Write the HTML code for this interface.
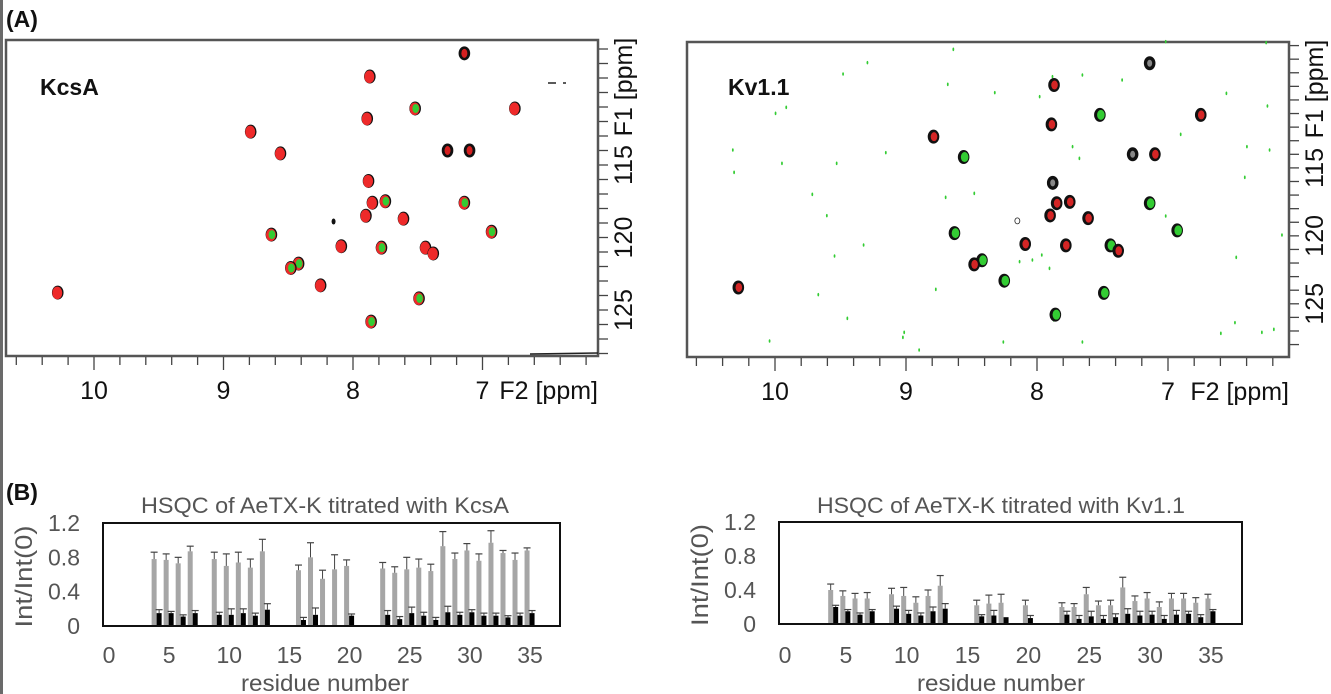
<!DOCTYPE html>
<html><head><meta charset="utf-8">
<style>
body{margin:0;width:1331px;height:694px;background:#fff;overflow:hidden;font-family:"Liberation Sans",sans-serif;}
svg{position:absolute;left:0;top:0;}
</style></head>
<body>
<svg id="fig" width="1331" height="694"></svg>
<script>
// ---------- NMR data (ppm) ----------
const peakF2 = [7.14,7.87,7.52,6.75,7.89,8.79,8.56,7.27,7.10,7.88,7.85,7.75,7.14,7.90,7.61,8.15,6.93,8.63,8.09,7.78,7.44,7.38,8.42,8.48,8.25,7.49,10.28,7.86];
const peakF1 = [107.3,108.9,111.1,111.1,111.8,112.7,114.2,114.0,114.0,116.1,117.6,117.5,117.6,118.5,118.7,118.9,119.6,119.8,120.6,120.7,120.7,121.1,121.8,122.1,123.3,124.2,123.8,125.8];
const kcsaType = ['k','r','g','r','r','r','r','k','k','r','r','g','g','r','r','d','g','g','r','g','r','r','g','g','r','g','r','g'];
const kvType = ['o','kr','kg','kr','kr','kr','kg','o','kr','o','kr','kr','kg','kr','kr','c','kg','kg','kr','kr','kg','kr','kg','kr','kg','kg','kr','kg'];
// green noise specks in Kv1.1 spectrum (zoomed-pixel readings)
const noiseZ = [[663,148],[462,188],[405,222],[650,253],[760,278],[865,290],[895,230],[965,225],[1058,240],[1302,280],[1398,318],[1195,403],[942,440],[958,475],[1350,440],[1403,450],[1345,532],[505,458],[390,490],[262,490],[247,340],[272,322],[147,450],[150,517],[333,583],[367,647],[645,592],[712,580],[453,735],[385,768],[818,785],[848,780],[870,765],[888,805],[1160,648],[1432,705],[1325,772],[622,868],[347,884],[415,955],[548,997],[545,1012],[583,1050],[233,1023],[780,1026],[965,1026],[1289,1000],[1322,968],[1385,997],[1413,988],[1160,125],[1395,128],[898,960]];

// ---------- bar chart data ----------
const residues = [4,5,6,7,9,10,11,12,13,16,17,18,19,20,23,24,25,26,27,28,29,30,31,32,33,34,35];
const kcsaGray = [0.78,0.77,0.73,0.87,0.78,0.70,0.74,0.68,0.87,0.65,0.80,0.55,0.66,0.70,0.67,0.62,0.66,0.68,0.64,0.93,0.78,0.88,0.76,0.97,0.85,0.77,0.88];
const kcsaGrayErr = [0.08,0.07,0.07,0.06,0.08,0.14,0.12,0.10,0.14,0.06,0.17,0.10,0.17,0.07,0.07,0.07,0.14,0.10,0.08,0.17,0.07,0.08,0.08,0.14,0.03,0.08,0.03];
const kcsaBlack = [0.15,0.15,0.11,0.15,0.13,0.13,0.15,0.12,0.19,0.07,0.13,null,null,0.12,0.13,0.08,0.15,0.12,0.07,0.16,0.13,0.16,0.12,0.12,0.10,0.12,0.15];
const kcsaBlackErr = [0.04,0.02,0.02,0.03,0.03,0.07,0.05,0.03,0.07,0.03,0.08,0,0,0.02,0.05,0.03,0.07,0.04,0.03,0.07,0.03,0.03,0.03,0.03,0.02,0.03,0.03];
const kvGray = [0.40,0.33,0.30,0.30,0.35,0.33,0.25,0.33,0.45,0.22,0.24,0.25,null,0.22,0.20,0.20,0.35,0.22,0.22,0.43,0.27,0.30,0.20,0.30,0.30,0.25,0.30];
const kvGrayErr = [0.07,0.06,0.06,0.07,0.07,0.10,0.07,0.07,0.12,0.06,0.10,0.10,0,0.06,0.05,0.04,0.08,0.05,0.06,0.12,0.06,0.07,0.06,0.06,0.06,0.06,0.05];
const kvBlack = [0.20,0.15,0.11,0.15,0.18,0.12,0.10,0.15,0.18,0.09,0.10,0.08,null,0.07,0.11,0.06,0.09,0.06,0.08,0.12,0.10,0.11,0.06,0.11,0.12,0.08,0.15];
const kvBlackErr = [0.02,0.02,0.02,0.02,0.03,0.04,0.03,0.05,0.06,0.02,0.06,0.0,0,0.03,0.04,0.04,0.06,0.04,0.04,0.06,0.05,0.04,0.04,0.05,0.03,0.03,0.02];
const xTicks = [0,5,10,15,20,25,30,35];
const yTicks = [0,0.4,0.8,1.2];
const yTickLabels = ['0','0.4','0.8','1.2'];
const ppmXTicks = [10,9,8,7];
const ppmYTicks = [115,120,125];

const NS='http://www.w3.org/2000/svg';
const svg=document.getElementById('fig');
function mk(tag,attrs,parent){const e=document.createElementNS(NS,tag);for(const k in attrs)e.setAttribute(k,attrs[k]);(parent||svg).appendChild(e);return e;}
function txt(s,attrs,parent){const e=mk('text',attrs,parent);e.textContent=s;return e;}

let strip=mk('rect',{x:0,y:0,width:3,height:694,fill:'#6a6a6a'});



let la=txt('(A)',{x:6,y:27,'font-size':23,'font-weight':'bold',fill:'#111'});


let lb=txt('(B)',{x:6,y:500,'font-size':23,'font-weight':'bold',fill:'#111'});



// ---------- NMR panels ----------
function nmrPanel(cfg){
  const g=mk('g',{});
  
  
  const X=p=>cfg.x10+(10-p)*cfg.px;
  const Y=p=>cfg.y115+(p-115)*cfg.py;
  const frame=mk('rect',{x:cfg.L,y:cfg.T,width:cfg.R-cfg.L,height:cfg.B-cfg.T,fill:'#fff',stroke:'#555','stroke-width':2.5},g);
  
  
  for(let i=0;i<=60;i++){const p=10.6-i*0.2;const x=X(p);if(x<cfg.L+3||x>cfg.R)continue;
    const major=Math.abs(p-Math.round(p))<0.01;
    const t=mk('line',{x1:x,x2:x,y1:cfg.B+1,y2:cfg.B+(major?14:9),stroke:'#444','stroke-width':1.3},g);
    
    }
  ppmXTicks.forEach(p=>{const t=txt(String(p),{x:X(p),y:cfg.B+43,'font-size':25,'text-anchor':'middle',fill:'#111'},g);
    
    });
  const xt=txt('F2 [ppm]',{x:cfg.R,y:cfg.B+43,'font-size':25,'text-anchor':'end',fill:'#111'},g);
  
  
  for(let p=106;p<=129;p++){const y=Y(p);if(y<cfg.T+1||y>cfg.B-1)continue;
    const t=mk('line',{x1:cfg.R+1,x2:cfg.R+10,y1:y,y2:y,stroke:'#444','stroke-width':1.3},g);
    
    }
  ppmYTicks.forEach(p=>{const t=txt(String(p),{x:0,y:0,'font-size':25,'text-anchor':'middle',fill:'#111',transform:`translate(${cfg.R+34},${Y(p)}) rotate(-90)`},g);
    
    });
  const yt=txt('F1 [ppm]',{x:0,y:0,'font-size':25,'text-anchor':'middle',fill:'#111',transform:`translate(${cfg.R+34},${cfg.T+47}) rotate(-90)`},g);
  
  
  const lab=txt(cfg.label,{x:cfg.lx,y:95,'font-size':23,'font-weight':'bold',fill:'#111'},g);
  
  
  if(cfg.noise){cfg.noise.forEach(n=>{const f2=10-(670+n[0]/2.34-cfg.x10)/cfg.px;const f1=115+(n[1]/3-cfg.y115)/cfg.py;
    const d=mk('ellipse',{cx:X(f2),cy:Y(f1),rx:0.9,ry:1.8,fill:'#3c3'},g);
    
    });}
  peakF2.forEach((f2,i)=>{const cx=X(f2),cy=Y(peakF1[i]);const ty=cfg.types[i];
    const pg=mk('g',{},g);
    
    
    if(ty==='d'){mk('ellipse',{cx,cy,rx:2,ry:3,fill:'#111'},pg);return;}
    if(ty==='c'){mk('ellipse',{cx,cy,rx:2.5,ry:3,fill:'none',stroke:'#222','stroke-width':0.8},pg);return;}
    mk('ellipse',{cx,cy,rx:5.8,ry:7,fill:'#111'},pg);
    if(ty==='o'){mk('ellipse',{cx,cy,rx:2.5,ry:3.5,fill:'#888'},pg);return;}
    if(ty==='r'||ty==='g'){mk('ellipse',{cx:cx-0.5,cy:cy+0.3,rx:5,ry:6.3,fill:'#ee2a2a'},pg);}
    if(ty==='k'){mk('ellipse',{cx,cy,rx:3,ry:4.5,fill:'#d52020'},pg);}
    if(ty==='kr'){mk('ellipse',{cx:cx+0.5,cy,rx:3.3,ry:4.5,fill:'#d42525'},pg);}
    if(ty==='g'){mk('ellipse',{cx:cx+0.5,cy,rx:3.3,ry:4.5,fill:'#33cc33'},pg);}
    if(ty==='kg'){mk('ellipse',{cx:cx+1,cy,rx:3.8,ry:5,fill:'#33cc33'},pg);}
  });
}
nmrPanel({name:'kcsa-spectrum',L:6,R:598,T:40,B:356,x10:94,px:129.5,y115:165,py:14.5,label:'KcsA',lx:40,types:kcsaType});
nmrPanel({name:'kv11-spectrum',L:687,R:1289,T:42,B:357,x10:775,px:131,y115:167.9,py:13.59,label:'Kv1.1',lx:728,types:kvType,noise:noiseZ});
[[548,83,556,83],[563,83,566,83],[530,354,598,353]].forEach(a=>{const l=mk('line',{x1:a[0],y1:a[1],x2:a[2],y2:a[3],stroke:'#222','stroke-width':1.5});
  
  });

// ---------- bar charts ----------
function barChart(cfg){
  const g=mk('g',{});
  
  
  const X=r=>cfg.x0+r*cfg.ux;
  const Y=v=>cfg.B-v*(cfg.B-cfg.T)/1.2;
  const t=txt(cfg.title,{x:cfg.tx,y:513,'font-size':22,'text-anchor':'middle',fill:'#555',textLength:368,lengthAdjust:'spacingAndGlyphs'},g);
  
  
  yTicks.forEach((v,i)=>{const l=txt(yTickLabels[i],{x:cfg.L-23,y:Y(v)+8,'font-size':23,'text-anchor':'end',fill:'#555'},g);
    
    });
  const yt=txt('Int/Int(0)',{x:0,y:0,'font-size':24,'text-anchor':'middle',fill:'#555',textLength:102,lengthAdjust:'spacingAndGlyphs',transform:`translate(${cfg.yx+2},${(cfg.T+cfg.B)/2+2}) rotate(-90)`},g);
  
  
  xTicks.forEach(v=>{const l=txt(String(v),{x:X(v),y:663,'font-size':23,'text-anchor':'middle',fill:'#555'},g);
    
    });
  const xt=txt('residue number',{x:cfg.tx,y:691,'font-size':23,'text-anchor':'middle',fill:'#555',textLength:168,lengthAdjust:'spacingAndGlyphs'},g);
  
  
  function err(x,v,e){if(!e)return;const y1=Y(v+e);
    const l=mk('line',{x1:x,x2:x,y1:Y(v),y2:y1,stroke:'#444','stroke-width':1},g);
    
    
    const c=mk('line',{x1:x-3.5,x2:x+3.5,y1:y1,y2:y1,stroke:'#444','stroke-width':1.2},g);
    
    }
  residues.forEach((r,i)=>{const c=X(r);
    const gv=cfg.gray[i];
    if(gv!=null){const b=mk('rect',{x:c-5.5,y:Y(gv),width:5,height:Y(0)-Y(gv),fill:'#a6a6a6'},g);
      
      
      err(c-3,gv,cfg.grayErr[i]);}
    const bv=cfg.black[i];
    if(bv!=null){const b=mk('rect',{x:c-0.5,y:Y(bv),width:5,height:Y(0)-Y(bv),fill:'#000'},g);
      
      
      err(c+2,bv,cfg.blackErr[i]);}
  });
  const f=mk('rect',{x:cfg.L,y:cfg.T,width:cfg.R-cfg.L,height:cfg.B-cfg.T,fill:'none',stroke:'#111','stroke-width':2},g);
  
  
}
barChart({name:'kcsa-bar-chart',L:103,R:560,T:523,B:626,x0:109,ux:12.03,tx:325,yx:30,title:'HSQC of AeTX-K titrated with KcsA',gray:kcsaGray,grayErr:kcsaGrayErr,black:kcsaBlack,blackErr:kcsaBlackErr});
barChart({name:'kv11-bar-chart',L:779,R:1242,T:522,B:624,x0:785,ux:12.17,tx:1001,yx:706,title:'HSQC of AeTX-K titrated with Kv1.1',gray:kvGray,grayErr:kvGrayErr,black:kvBlack,blackErr:kvBlackErr});
</script>
</body></html>
